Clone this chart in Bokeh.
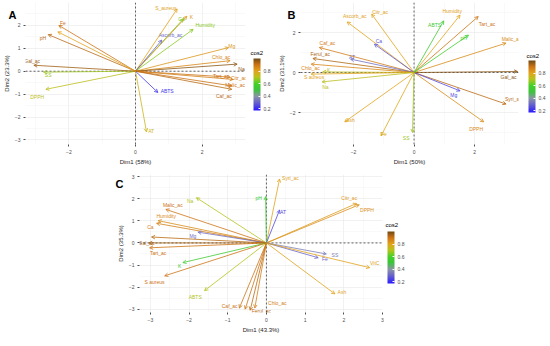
import numpy as np
from bokeh.plotting import figure
from bokeh.layouts import column, row
from bokeh.models import (ColumnDataSource, Arrow, OpenHead, Span, ColorBar,
                          LinearColorMapper, FixedTicker, Spacer)
from bokeh.transform import transform
from bokeh.core.properties import value
from bokeh.embed import file_html
from bokeh.resources import INLINE

# ---------------- data ----------------
# Panel A
a_names = ["S_aureus", "Ca", "K", "Humidity", "Ascorb_ac", "Mg", "Chlo_ac", "Na",
           "Tart_ac", "Citr_ac", "Malic_ac", "Caf_ac", "ABTS", "AT", "DPPH", "SS",
           "Gal_ac", "pH", "Fe", ""]
a_x = [1.25, 1.44, 1.54, 1.73, 0.79, 2.79, 2.84, 3.05, 2.84, 2.93, 2.89, 2.89,
       0.67, 0.33, -2.69, -2.76, -3.05, -2.62, -2.30, -2.33]
a_y = [2.72, 2.29, 2.40, 1.83, 1.36, 1.03, 0.46, 0.31, -0.26, -0.36, -0.64, -0.79,
       -0.93, -2.65, -0.79, -0.04, 0.26, 1.60, 2.00, 1.72]
a_lx = [0.91, 1.38, 1.68, 2.09, 1.05, 2.89, 2.57, 3.18, 2.57, 3.10, 2.99, 2.65,
        0.95, 0.47, -2.95, -2.62, -3.10, -2.78, -2.18, -2.33]
a_ly = [2.78, 2.26, 2.36, 2.00, 1.57, 1.12, 0.62, 0.11, -0.21, -0.29, -0.61, -1.07,
        -0.86, -2.62, -1.12, -0.17, 0.46, 1.43, 2.12, 1.72]
a_cos2 = [0.80, 0.65, 0.83, 0.66, 0.30, 0.83, 0.86, 0.97, 0.90, 0.88, 0.90, 0.92,
          0.22, 0.75, 0.72, 0.68, 0.95, 0.92, 0.90, 0.80]

# Panel B
b_names = ["Ascorb_ac", "Citr_ac", "Ca", "Caf_ac", "Ferul_ac", "AT", "Chlo_ac", "K",
           "S aureus", "Na", "Ash", "Fe", "SS", "DPPH", "Syri_ac", "Mg", "Gal_ac",
           "Malic_ac", "Tart_ac", "Humidity", "ABTS", "pH"]
b_x = [-2.21, -1.40, -1.31, -3.13, -3.34, -2.10, -3.40, -3.02, -3.40, -3.04, -2.29,
       -1.09, -0.05, 2.30, 3.04, 1.52, 3.42, 3.04, 2.12, 1.52, 0.98, 1.80]
b_y = [2.53, 2.92, 1.42, 1.25, 0.70, 0.67, 0.42, 0.03, -0.08, -0.47, -2.47, -3.17,
       -3.00, -2.47, -1.58, -0.92, 0.05, 1.47, 2.80, 2.87, 2.58, 1.87]
b_lx = [-1.96, -1.12, -1.16, -2.86, -3.10, -2.05, -3.42, -2.82, -3.30, -2.93, -2.10,
        -1.00, -0.26, 2.05, 3.28, 1.31, 3.12, 3.22, 2.41, 1.26, 0.68, 1.64]
b_ly = [2.83, 3.05, 1.58, 1.50, 0.92, 0.80, 0.25, 0.12, -0.20, -0.72, -2.37, -3.08,
        -3.28, -2.80, -1.33, -1.13, -0.22, 1.70, 2.45, 3.10, 2.37, 1.75]
b_cos2 = [0.80, 0.80, 0.28, 0.88, 0.93, 0.32, 0.86, 0.72, 0.80, 0.72, 0.80, 0.78,
          0.68, 0.85, 0.92, 0.25, 0.97, 0.85, 0.90, 0.80, 0.55, 0.58]

# Panel C
c_names = ["Syri_ac", "pH", "AT", "Citr_ac", "DPPH", "Na", "Malic_ac", "Humidity",
           "Ca", "Mg", "", "Gal_ac", "Tart_ac", "K", "S aureus", "ABTS", "Caf_ac",
           "", "Ferul_ac", "Chlo_ac", "Fe", "SS", "VitC", "Ash"]
c_x = [0.34, -0.02, 0.34, 2.33, 2.40, -1.81, -2.60, -2.80, -2.84, -1.77, -2.97,
       -3.04, -3.02, -2.16, -2.63, -1.60, -0.70, -0.55, -0.42, -0.30, 1.34, 1.55,
       2.67, 1.77]
c_y = [2.90, 2.10, 1.49, 1.79, 1.73, 2.05, 1.52, 1.01, 0.89, 0.49, 0.27, 0.00,
       -0.22, -0.89, -1.49, -2.16, -2.95, -3.00, -3.05, -2.95, -0.67, -0.50,
       -1.12, -2.31]
c_lx = [0.62, -0.20, 0.43, 2.14, 2.60, -1.97, -2.42, -2.59, -3.00, -1.90, -2.97,
        -3.10, -2.80, -2.24, -2.89, -1.84, -0.95, -0.55, -0.13, 0.28, 1.51, 1.77,
        2.80, 1.95]
c_ly = [2.92, 2.05, 1.41, 2.04, 1.49, 1.90, 1.73, 1.22, 0.74, 0.33, 0.27, 0.00,
        -0.45, -1.04, -1.79, -2.46, -2.85, -3.00, -3.10, -2.72, -0.74, -0.55,
        -0.90, -2.20]
c_cos2 = [0.80, 0.55, 0.25, 0.82, 0.84, 0.70, 0.90, 0.85, 0.88, 0.32, 0.92, 0.93,
          0.90, 0.55, 0.90, 0.70, 0.90, 0.90, 0.92, 0.88, 0.30, 0.35, 0.80, 0.80]

cb_ticks = [0.2, 0.4, 0.6, 0.8]

# ---------------- styling ----------------
FONT = "Liberation Sans"
stops = [(0.17, "#2a1aff"), (0.30, "#6a66c8"), (0.40, "#8a96a4"), (0.50, "#3cc43c"),
         (0.60, "#44d028"), (0.70, "#b4c41c"), (0.80, "#e2a41c"), (0.90, "#cf7414"),
         (1.00, "#6e4a14")]


def hex2rgb(h):
    return np.array([int(h[i:i + 2], 16) for i in (1, 3, 5)], dtype=float)


def make_palette(n=256):
    pos = np.array([s[0] for s in stops])
    cols = np.array([hex2rgb(s[1]) for s in stops])
    t = np.linspace(pos[0], pos[-1], n)
    out = []
    for v in t:
        rgb = [np.interp(v, pos, cols[:, k]) for k in range(3)]
        out.append("#%02x%02x%02x" % tuple(int(round(c)) for c in rgb))
    return out


palette = make_palette()


def text_box(p, text, loc, size, bold):
    # a title-only (invisible bar) color bar: lets a text sit outside the frame
    m = LinearColorMapper(palette=["#ffffff"], low=0, high=1)
    p.add_layout(ColorBar(color_mapper=m, orientation="horizontal", title=text,
                          title_text_font=FONT, title_text_font_size=size,
                          title_text_font_style="bold" if bold else "normal",
                          title_text_color="black", title_standoff=0,
                          width=1, height=1, scale_alpha=0,
                          ticker=FixedTicker(ticks=[]), major_label_text_alpha=0,
                          major_tick_line_color=None, minor_tick_line_color=None,
                          bar_line_color=None, border_line_color=None,
                          background_fill_alpha=0, padding=0, location=loc))


def make_panel(names, xs, ys, lxs, lys, c2, xr, yr, xticks, xminor, yticks, yminor,
               xlab, ylab, letter, fw, fh, top, bottom, letter_loc, cb_loc, cbt_loc):
    mapper = LinearColorMapper(palette=palette, low=0.17, high=1.0)
    p = figure(frame_width=fw, frame_height=fh, x_range=xr, y_range=yr,
               output_backend="svg", toolbar_location=None,
               min_border_left=18, min_border_right=30, min_border_top=top,
               min_border_bottom=bottom, outline_line_color=None,
               background_fill_color="white", border_fill_color="white")
    for ax, ticks, minor, lab in ((p.xaxis, xticks, xminor, xlab),
                                  (p.yaxis, yticks, yminor, ylab)):
        ax.ticker = FixedTicker(ticks=ticks, minor_ticks=minor)
        ax.axis_label = lab
        ax.axis_label_text_font = FONT
        ax.axis_label_text_font_size = "6px"
        ax.axis_label_text_font_style = "normal"
        ax.axis_label_text_color = "#222222"
        ax.axis_label_standoff = 2
        ax.major_label_text_font = FONT
        ax.major_label_text_font_size = "5px"
        ax.major_label_text_color = "#4d4d4d"
        ax.major_label_standoff = 1
        ax.axis_line_color = None
        ax.major_tick_line_color = "#4d4d4d"
        ax.major_tick_out = 2
        ax.major_tick_in = 0
        ax.minor_tick_line_color = None
    for g in (p.xgrid, p.ygrid):
        g.grid_line_color = "#e8e8e8"
        g.grid_line_width = 0.6
        g.minor_grid_line_color = "#f3f3f3"
        g.minor_grid_line_width = 0.5

    p.add_layout(Span(location=0, dimension="width", line_dash="2 2",
                      line_color="#222222", line_width=0.7))
    p.add_layout(Span(location=0, dimension="height", line_dash="2 2",
                      line_color="#222222", line_width=0.7))

    src = ColumnDataSource(dict(x=xs, y=ys, lx=lxs, ly=lys, name=names, cos2=c2))
    col = transform("cos2", mapper)
    p.add_layout(Arrow(end=OpenHead(size=3.5, line_color=col, line_width=0.8),
                       x_start=0, y_start=0, x_end="x", y_end="y", source=src,
                       line_color=col, line_width=0.8))
    p.text(x="lx", y="ly", text="name", source=src, text_color=col,
           text_font=value(FONT), text_font_size=value("5px"),
           text_align="center", text_baseline="middle")

    cb = ColorBar(color_mapper=mapper, ticker=FixedTicker(ticks=cb_ticks),
                  width=7, height=52, major_label_text_font=FONT,
                  major_label_text_font_size="5px",
                  major_label_text_color="#4d4d4d", padding=3, label_standoff=3,
                  major_tick_line_color="white", major_tick_in=2,
                  bar_line_color=None, border_line_color=None,
                  background_fill_alpha=0, location=cb_loc)
    p.add_layout(cb)
    text_box(p, "cos2", cbt_loc, "6px", False)
    text_box(p, letter, letter_loc, "11px", True)
    return p


pA = make_panel(a_names, a_x, a_y, a_lx, a_ly, a_cos2, (-3.3, 3.3), (-3.2, 3.0),
                [-2, 0, 2], [-3, -1, 1, 3], [-3, -2, -1, 0, 1, 2],
                [-2.5, -1.5, -0.5, 0.5, 1.5, 2.5],
                "Dim1 (58%)", "Dim2 (23.3%)", "A", 220, 142, 2, 26,
                (-17, 123), (225, 31), (225, 88))

pB = make_panel(b_names, b_x, b_y, b_lx, b_ly, b_cos2, (-3.75, 3.45), (-3.6, 3.5),
                [-2, 0, 2], [-3, -1, 1, 3], [-2, 0, 2], [-3, -1, 1, 3],
                "Dim1 (50%)", "Dim2 (31.1%)", "B", 218, 142, 2, 26,
                (-13, 123), (225, 29), (226, 85))

pC = make_panel(c_names, c_x, c_y, c_lx, c_ly, c_cos2, (-3.28, 3.0), (-3.15, 3.1),
                [-3, -2, -1, 0, 1, 2, 3], [-2.5, -1.5, -0.5, 0.5, 1.5, 2.5],
                [-3, -2, -1, 0, 1, 2, 3], [-2.5, -1.5, -0.5, 0.5, 1.5, 2.5],
                "Dim1 (43.3%)", "Dim2 (35.3%)", "C", 243, 138, 4, 18,
                (-24, 122), (245, 26), (246, 84))

layout = column(row(pA, pB), row(Spacer(width=114, height=160), pC))

open("out.html", "w").write(file_html(layout, INLINE))
